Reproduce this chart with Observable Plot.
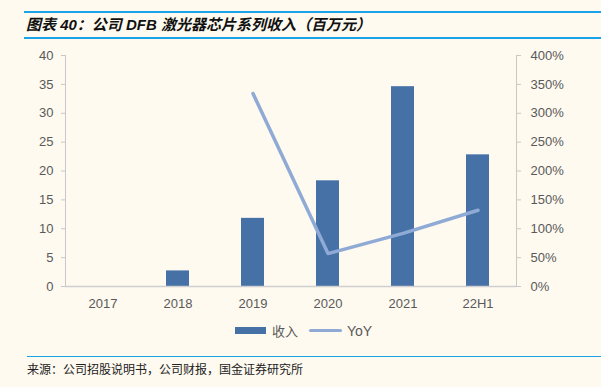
<!DOCTYPE html>
<html><head><meta charset="utf-8">
<script src="https://cdn.jsdelivr.net/npm/d3@7"></script>
<script src="https://cdn.jsdelivr.net/npm/@observablehq/plot@0.6"></script>
<style>
body{margin:0;background:#fefaf0;width:601px;height:387px;overflow:hidden;position:relative;font-family:"Liberation Sans",Arial,"Noto Sans CJK SC",sans-serif;}
#title{position:absolute;left:24px;right:0;top:11px;height:24px;border-top:2px solid #1aa3e8;border-bottom:2px solid #1aa3e8;font-family:"Liberation Sans","Noto Sans CJK SC",sans-serif;font-weight:bold;font-style:italic;font-size:15px;line-height:24px;color:#111;padding-left:2px;}
#chart{position:absolute;left:0;top:40px;}
#legend{position:absolute;top:321px;left:235px;font-size:13px;color:#595959;display:flex;align-items:center;font-family:"Noto Sans CJK SC","Liberation Sans",sans-serif;}
#source{position:absolute;left:27px;right:0;top:356px;border-top:1.5px solid #1aa3e8;font-size:12px;color:#222;padding-top:3px;font-family:"Noto Sans CJK SC",sans-serif;}
</style></head>
<body>
<div id="title">图表 40：公司 DFB 激光器芯片系列收入（百万元）</div>
<div id="chart"></div>
<div id="legend"><span style="display:inline-block;width:31px;height:7px;background:#4571a6;margin-right:6px"></span><span>收入</span><span style="display:inline-block;width:33px;height:3px;background:#8eaad5;margin-left:11px;margin-right:5px;border-radius:2px"></span><span style="font-family:'Liberation Sans',sans-serif;font-size:14px">YoY</span></div>
<div id="source">来源：公司招股说明书，公司财报，国金证券研究所</div>
<script>
const years = ["2017","2018","2019","2020","2021","22H1"];
const revenue = [0, 2.7, 11.8, 18.3, 34.6, 22.8];
const yoyYears = ["2019","2020","2021","22H1"];
const yoy = [334, 57, 92, 132];
const leftTicks = [0,5,10,15,20,25,30,35,40];
const rightTicks = [0,50,100,150,200,250,300,350,400];

const bars = years.map((y,i)=>({year:y, value:revenue[i]})).filter(d=>d.value>0);
const line = yoyYears.map((y,i)=>({year:y, yoy:yoy[i]}));

const plot = Plot.plot({
  width:601, height:280,
  marginTop:15, marginBottom:34, marginLeft:65, marginRight:85,
  style:{background:"transparent", fontFamily:"'Liberation Sans',Arial,sans-serif", fontSize:"13px", color:"#595959"},
  x:{domain:years, paddingInner:0.69, paddingOuter:0.345, label:null},
  y:{domain:[0,40], label:null},
  marks:[
    Plot.barY(bars,{x:"year", y:"value", fill:"#4571a6"}),
    Plot.lineY(line,{x:"year", y:d=>d.yoy/10, stroke:"#8eaad5", strokeWidth:3.5, strokeLinecap:"round"}),
    Plot.frame({anchor:"left", stroke:"#c8c8c8"}),
    Plot.frame({anchor:"right", stroke:"#c8c8c8"}),
    Plot.ruleY([0],{stroke:"#cfcfcf", strokeWidth:1.5}),
    Plot.axisY(leftTicks,{anchor:"left", tickSize:4, tickPadding:8, stroke:"#c8c8c8", fill:"#595959", fontSize:13, label:null}),
    Plot.axisY(rightTicks.map(d=>d/10),{anchor:"right", tickSize:4, tickPadding:10, stroke:"#c8c8c8", fill:"#595959", fontSize:13, tickFormat:d=>Math.round(d*10)+"%", label:null}),
    Plot.axisX({tickSize:0, tickPadding:12, fill:"#595959", fontSize:13, label:null})
  ]
});
document.getElementById("chart").appendChild(plot);
</script>
</body></html>
